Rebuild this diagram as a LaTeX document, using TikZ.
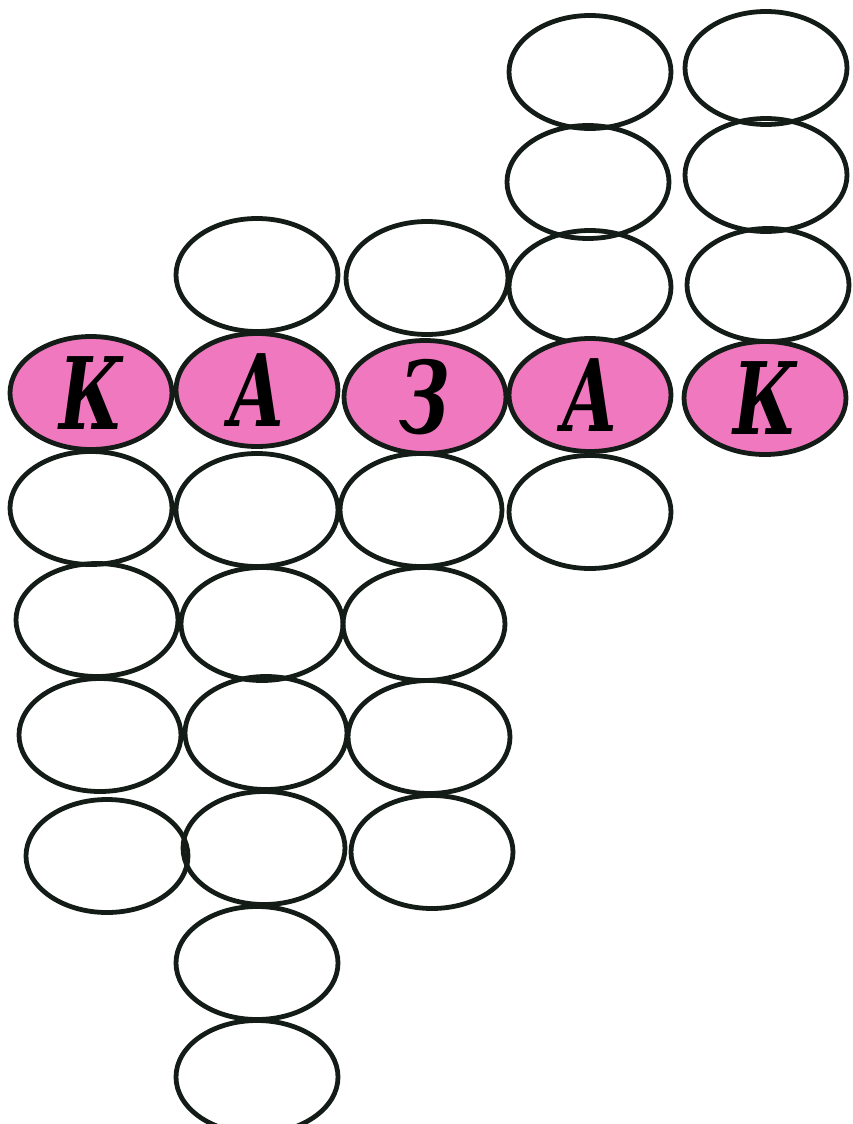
\documentclass[tikz,border=0pt]{standalone}
\usepackage{fontspec}
\newfontfamily\deco{DejaVu Serif}
\usetikzlibrary{shapes.geometric}
\definecolor{pinkfill}{RGB}{240,120,190}
\definecolor{ink}{RGB}{20,28,24}
\tikzset{
  cell/.style={ellipse, draw=ink, line width=4.8pt, minimum width=162pt, minimum height=113pt, inner sep=0pt},
  key/.style={cell, fill=pinkfill, font=\deco\bfseries\itshape\fontsize{100}{100}\selectfont, text=black}
}
\begin{document}
\begin{tikzpicture}[x=1pt,y=1pt]
\useasboundingbox (0,0) rectangle (852,-1124);
% column 1
\node[cell] (a1) at (91,-508) {};
\node[cell] (a2) at (97,-620) {};
\node[cell] (a3) at (100,-735) {};
\node[cell] (a4) at (107,-856) {};
% column 2
\node[cell] (b0) at (257,-275) {};
\node[cell] (b1) at (257,-510) {};
\node[cell] (b2) at (262,-624) {};
\node[cell] (b3) at (266,-733) {};
\node[cell] (b4) at (264,-848) {};
\node[cell] (b5) at (257,-963) {};
\node[cell] (b6) at (257,-1077) {};
% column 3
\node[cell] (c0) at (427,-278) {};
\node[cell] (c1) at (421,-510) {};
\node[cell] (c2) at (424,-624) {};
\node[cell] (c3) at (429,-737) {};
\node[cell] (c4) at (432,-852) {};
% column 4
\node[cell] (d0) at (590,-72) {};
\node[cell] (d1) at (588,-182) {};
\node[cell] (d2) at (590,-287) {};
\node[cell] (d3) at (590,-512) {};
% column 5
\node[cell] (e0) at (766,-68) {};
\node[cell] (e1) at (766,-175) {};
\node[cell] (e2) at (768,-285) {};
% key word row
\node[key] (k1) at (91,-393) {\scalebox{0.7}[1]{К}};
\node[key] (k2) at (257,-390) {\scalebox{0.7}[1]{А}};
\node[key] (k3) at (425,-397) {\scalebox{0.7}[1]{З}};
\node[key] (k4) at (590,-395) {\scalebox{0.7}[1]{А}};
\node[key] (k5) at (765,-398) {\scalebox{0.7}[1]{К}};
\end{tikzpicture}
\end{document}
